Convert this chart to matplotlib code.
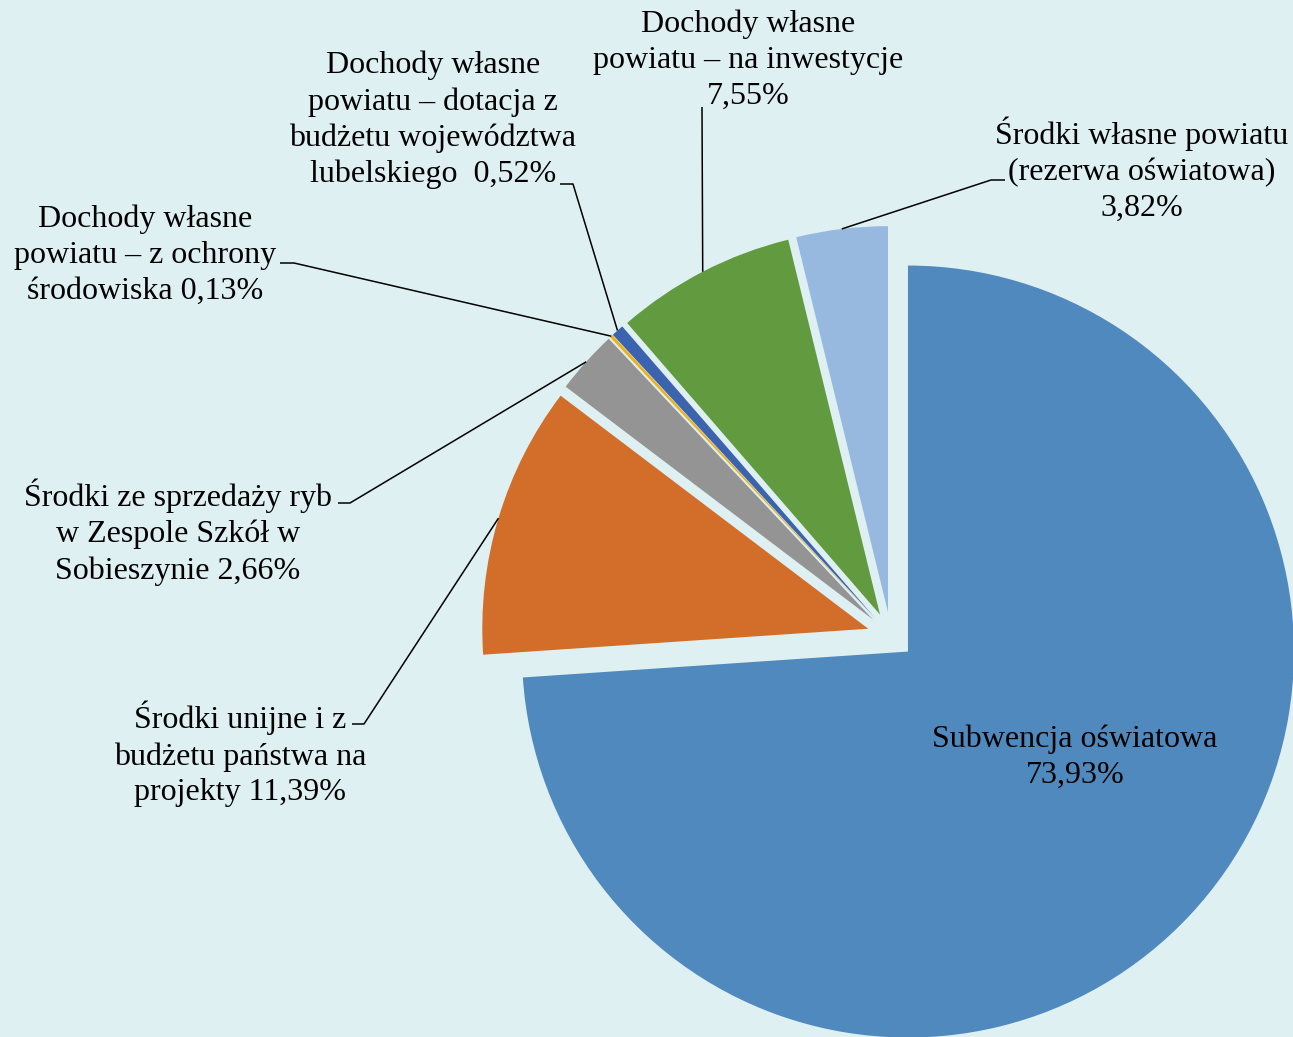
import matplotlib.pyplot as plt
import numpy as np

# data
labels = [
    "Subwencja oświatowa\n73,93%",
    "Środki unijne i z\nbudżetu państwa na\nprojekty 11,39%",
    "Środki ze sprzedaży ryb\nw Zespole Szkół w\nSobieszynie 2,66%",
    "Dochody własne\npowiatu – z ochrony\nśrodowiska 0,13%",
    "Dochody własne\npowiatu – dotacja z\nbudżetu województwa\nlubelskiego  0,52%",
    "Dochody własne\npowiatu – na inwestycje\n7,55%",
    "Środki własne powiatu\n(rezerwa oświatowa)\n3,82%",
]
shares = [73.93, 11.39, 2.66, 0.13, 0.52, 7.55, 3.82]
colors = ["#5089BD", "#D36E2A", "#949494", "#F0B114", "#3C64AE", "#629B3F", "#97B9DF"]

BG = "#DFF0F3"
W, H = 1293, 1037
CX, CY, R = 890.8, 635.5, 386.0   # pie centre / radius in pixels


def px(x, y):
    """pixel position (origin top-left) -> data coords of the unit pie"""
    return (x - CX) / R, (CY - y) / R


# label block centre (px) and elbow of the leader line (start, knee) in px
label_pos = [
    (1075, 757),
    (240, 754),
    (178, 532),
    (145, 255),
    (433, 120),
    (748, 60),
    (1142, 170),
]
elbows = [
    None,
    ((352, 724), (364, 724)),
    ((338, 503), (350, 503)),
    ((280, 263), (294, 263)),
    ((560, 184), (573, 184)),
    ((702, 107), (702, 107)),
    ((1005, 180), (991, 180)),
]

plt.rcParams['font.family'] = ['Liberation Serif', 'DejaVu Serif']

fig = plt.figure(figsize=(W / 100, H / 100), dpi=100, facecolor=BG)
ax = fig.add_axes([0, 0, 1, 1])
ax.set_facecolor(BG)

wedges, _ = ax.pie(shares, colors=colors, startangle=90, counterclock=False,
                   explode=[23.5 / R] * len(shares), radius=1,
                   wedgeprops=dict(linewidth=0))

x0, y1 = px(0, 0)
x1, y0 = px(W, H)
ax.set_xlim(x0, x1)
ax.set_ylim(y0, y1)
ax.set_aspect('auto')
ax.axis('off')

for i, w in enumerate(wedges):
    tx, ty = px(*label_pos[i])
    ax.text(tx, ty, labels[i], ha='center', va='center', multialignment='center',
            fontsize=23, color='black', linespacing=1.3)
    if elbows[i] is None:
        continue
    mid = np.deg2rad((w.theta1 + w.theta2) / 2)
    ex = w.center[0] + w.r * np.cos(mid)
    ey = w.center[1] + w.r * np.sin(mid)
    (sx, sy), (kx, ky) = [px(*p) for p in elbows[i]]
    ax.plot([sx, kx, ex], [sy, ky, ey], color='black', lw=1.1,
            solid_capstyle='butt')

fig.savefig("out.png", dpi=100, facecolor=BG)
